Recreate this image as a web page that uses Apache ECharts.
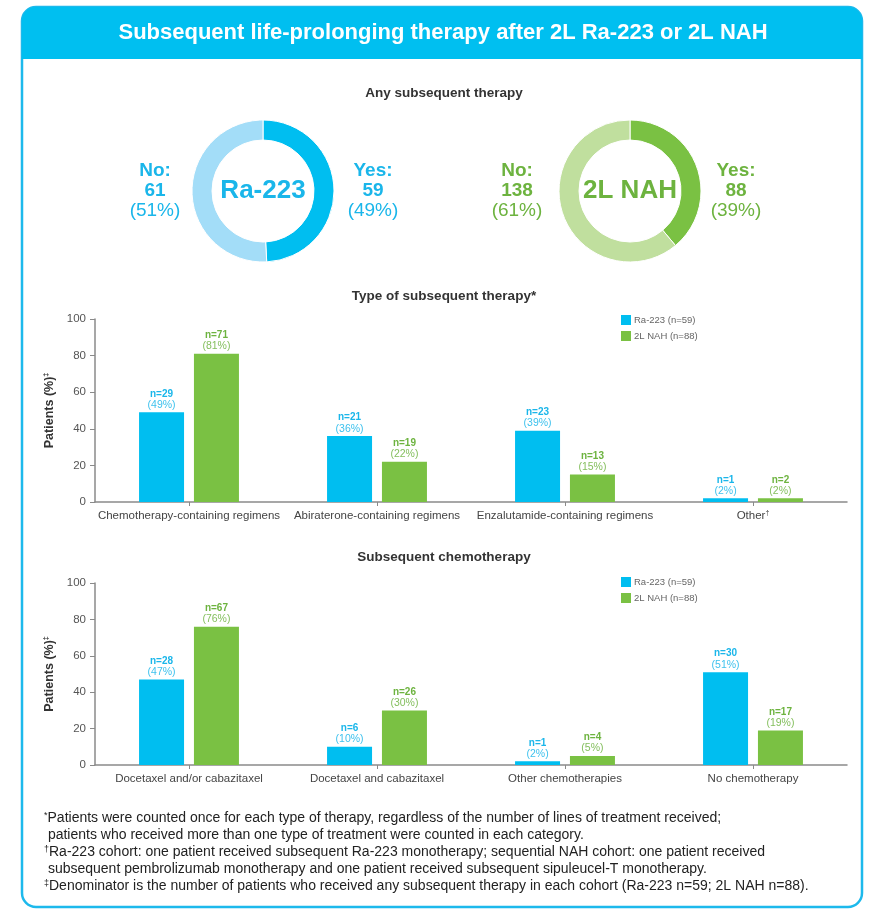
<!DOCTYPE html>
<html>
<head>
<meta charset="utf-8">
<script src="https://cdn.jsdelivr.net/npm/echarts@6/dist/echarts.min.js"></script>
<style>html,body{margin:0;padding:0;background:#fff;}#c{width:879px;height:920px;}</style>
</head>
<body>
<div id="c"></div>
<script>
// ---- Data ----
const raName = 'Ra-223 (n=59)';
const nahName = '2L NAH (n=88)';
const raAny = { yes: 59, no: 61 };
const nahAny = { yes: 88, no: 138 };

const therapyCategories = ['Chemotherapy-containing regimens', 'Abiraterone-containing regimens', 'Enzalutamide-containing regimens', 'Other\u2020'];
const therapyRaPct = [49, 36, 39, 2];
const therapyRaN = [29, 21, 23, 1];
const therapyNahPct = [81, 22, 15, 2];
const therapyNahN = [71, 19, 13, 2];

const chemoCategories = ['Docetaxel and/or cabazitaxel', 'Docetaxel and cabazitaxel', 'Other chemotherapies', 'No chemotherapy'];
const chemoRaPct = [47, 10, 2, 51];
const chemoRaN = [28, 6, 1, 30];
const chemoNahPct = [76, 30, 5, 19];
const chemoNahN = [67, 26, 4, 17];

const yTicks = [0, 20, 40, 60, 80, 100];

const footnotes = [
  ['*', 'Patients were counted once for each type of therapy, regardless of the number of lines of treatment received;'],
  ['', ' patients who received more than one type of treatment were counted in each category.'],
  ['\u2020', 'Ra-223 cohort: one patient received subsequent Ra-223 monotherapy; sequential NAH cohort: one patient received'],
  ['', ' subsequent pembrolizumab monotherapy and one patient received subsequent sipuleucel-T monotherapy.'],
  ['\u2021', 'Denominator is the number of patients who received any subsequent therapy in each cohort (Ra-223 n=59; 2L NAH n=88).']
];

// ---- Styles ----
const BLUE = '#00BEF0', BLUE_L = '#A3DDF8', BLUE_T = '#1AB6EA';
const GREEN = '#7AC143', GREEN_L = '#C0DF9E', GREEN_T = '#6DB33F';
const FONT = 'Liberation Sans, Arial, sans-serif';

const chart = echarts.init(document.getElementById('c'), null, { renderer: 'canvas' });

function pct(a, b) { return Math.round(a / (a + b) * 100); }
function supify(s) { return s.replace(/([\u2020\u2021])/g, '{s|$1}'); }

function barLabel(nArr, color) {
  return {
    show: true, position: 'top', distance: 2,
    formatter: p => '{n|n=' + nArr[p.dataIndex] + '}\n{p|(' + p.value + '%)}',
    rich: {
      n: { fontFamily: FONT, fontSize: 10, fontWeight: 'bold', color: color, lineHeight: 11 },
      p: { fontFamily: FONT, fontSize: 10.5, color: color, lineHeight: 11, opacity: 0.85 }
    }
  };
}

function xAxis(gridIndex, cats) {
  return {
    type: 'category', gridIndex, data: cats,
    axisLine: { lineStyle: { color: '#8a8a8a', width: 1.5 } },
    axisTick: { show: true, alignWithLabel: true, length: 4, lineStyle: { color: '#8a8a8a' } },
    axisLabel: {
      fontFamily: FONT, fontSize: 11.5, color: '#444', margin: 8, interval: 0,
      formatter: v => supify(v),
      rich: { s: { fontFamily: FONT, fontSize: 7, color: '#444', verticalAlign: 'top', padding: [0, 0, 5, 0] } }
    }
  };
}
function yAxis(gridIndex) {
  return {
    type: 'value', gridIndex, min: yTicks[0], max: yTicks[yTicks.length - 1], interval: 20,
    name: 'Patients (%){s|\u2021}', nameLocation: 'middle', nameGap: 36,
    nameTextStyle: {
      fontFamily: FONT, fontSize: 12.5, fontWeight: 'bold', color: '#333',
      rich: { s: { fontFamily: FONT, fontSize: 7, fontWeight: 'bold', color: '#333', verticalAlign: 'top', padding: [0, 0, 5, 0] } }
    },
    axisLine: { show: true, lineStyle: { color: '#8a8a8a', width: 1.5 } },
    axisTick: { show: true, length: 5, lineStyle: { color: '#8a8a8a' } },
    axisLabel: { fontFamily: FONT, fontSize: 11.5, color: '#555', margin: 9 },
    splitLine: { show: false }
  };
}

function bars(name, data, nArr, color, xi) {
  return {
    type: 'bar', name, data, xAxisIndex: xi, yAxisIndex: xi,
    barWidth: 45, barGap: '22%',
    itemStyle: { color },
    label: barLabel(nArr, color === BLUE ? BLUE_T : GREEN_T)
  };
}

function legend(top) {
  return {
    orient: 'vertical', left: 616, top, itemWidth: 10, itemHeight: 10, itemGap: 6,
    icon: 'rect', selectedMode: false,
    textStyle: { fontFamily: FONT, fontSize: 9.5, color: '#666', padding: [0, 0, 0, -2] },
    data: [raName, nahName]
  };
}

function donut(center, yes, no, cYes, cNo) {
  return {
    type: 'pie', center, radius: [51, 71], startAngle: 90, clockwise: true,
    silent: true, label: { show: false }, labelLine: { show: false },
    itemStyle: { borderColor: '#fff', borderWidth: 1 },
    data: [
      { name: 'Yes', value: yes, itemStyle: { color: cYes } },
      { name: 'No', value: no, itemStyle: { color: cNo } }
    ]
  };
}

function sideLabel(x, y, head, n, p, color) {
  return {
    type: 'text', x, y, z: 10,
    style: {
      text: '{b|' + head + '}\n{b|' + n + '}\n{r|(' + p + '%)}',
      textAlign: 'center', textVerticalAlign: 'middle',
      rich: {
        b: { fontFamily: FONT, fontSize: 19, fontWeight: 'bold', fill: color, lineHeight: 20, align: 'center' },
        r: { fontFamily: FONT, fontSize: 19, fontWeight: 'normal', fill: color, lineHeight: 20, align: 'center' }
      }
    }
  };
}

function txt(x, y, text, size, weight, color, align) {
  return {
    type: 'text', x, y, z: 10,
    style: { text, fontFamily: FONT, fontSize: size, fontWeight: weight, fill: color,
      textAlign: align || 'center', textVerticalAlign: 'middle' }
  };
}

const graphicEls = [
  { type: 'rect', z: -10, shape: { x: 22, y: 7, width: 840, height: 900, r: 14 },
    style: { fill: '#fff', stroke: '#1DB9EC', lineWidth: 2.5 } },
  { type: 'rect', z: -9, shape: { x: 22, y: 7, width: 840, height: 52, r: [14, 14, 0, 0] },
    style: { fill: '#00BFF0' } },
  txt(443, 33, 'Subsequent life-prolonging therapy after 2L Ra-223 or 2L NAH', 22, 'bold', '#fff'),
  txt(444, 93, 'Any subsequent therapy', 13.5, 'bold', '#333'),
  txt(263, 191, 'Ra-223', 26, 'bold', BLUE_T),
  txt(630, 191, '2L NAH', 26, 'bold', GREEN_T),
  sideLabel(155, 191, 'No:', raAny.no, pct(raAny.no, raAny.yes), BLUE_T),
  sideLabel(373, 191, 'Yes:', raAny.yes, pct(raAny.yes, raAny.no), BLUE_T),
  sideLabel(517, 191, 'No:', nahAny.no, pct(nahAny.no, nahAny.yes), GREEN_T),
  sideLabel(736, 191, 'Yes:', nahAny.yes, pct(nahAny.yes, nahAny.no), GREEN_T),
  txt(444, 296, 'Type of subsequent therapy*', 13.5, 'bold', '#333'),
  txt(444, 557, 'Subsequent chemotherapy', 13.5, 'bold', '#333')
];

footnotes.forEach((f, i) => {
  graphicEls.push({
    type: 'text', x: 44, y: 818 + i * 17, z: 10,
    style: {
      text: (f[0] ? '{s|' + f[0] + '}' : '') + '{t|' + f[1] + '}',
      textVerticalAlign: 'middle',
      rich: {
        s: { fontFamily: FONT, fontSize: 9, fill: '#222', verticalAlign: 'top', padding: [0, 0, 5, 0] },
        t: { fontFamily: FONT, fontSize: 14, fill: '#222' }
      }
    }
  });
});

chart.setOption({
  animation: false,
  graphic: { elements: graphicEls },
  legend: [legend(310), legend(572)],
  grid: [
    { left: 95, right: 32, top: 319, height: 183 },
    { left: 95, right: 32, top: 583, height: 182 }
  ],
  xAxis: [xAxis(0, therapyCategories), xAxis(1, chemoCategories)],
  yAxis: [yAxis(0), yAxis(1)],
  series: [
    donut([263, 191], raAny.yes, raAny.no, BLUE, BLUE_L),
    donut([630, 191], nahAny.yes, nahAny.no, GREEN, GREEN_L),
    bars(raName, therapyRaPct, therapyRaN, BLUE, 0),
    bars(nahName, therapyNahPct, therapyNahN, GREEN, 0),
    bars(raName, chemoRaPct, chemoRaN, BLUE, 1),
    bars(nahName, chemoNahPct, chemoNahN, GREEN, 1)
  ]
});
</script>
</body>
</html>
